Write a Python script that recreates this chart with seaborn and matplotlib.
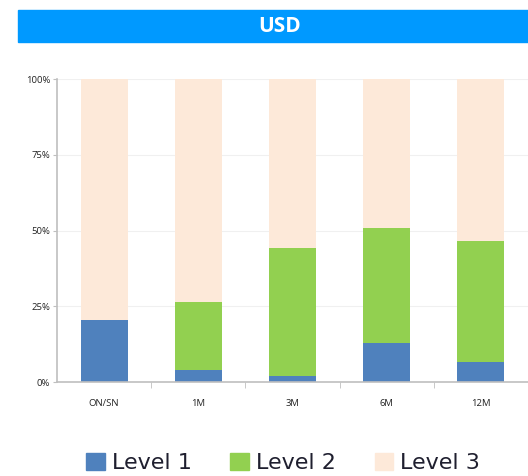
import pandas as pd
import matplotlib.pyplot as plt
import seaborn as sns
from matplotlib.patches import Rectangle, Patch
from matplotlib.ticker import FixedLocator, PercentFormatter

# ===== DATA =====
tenors = ["ON/SN", "1M", "3M", "6M", "12M"]
level1 = [20.5, 4.0, 2.0, 12.9, 6.6]
level2 = [0.0, 22.4, 42.2, 37.9, 39.9]
level3 = [100 - a - b for a, b in zip(level1, level2)]

COLORS = {"Level 1": "#4F81BD", "Level 2": "#92D050", "Level 3": "#FDE9D9"}


def main():
    df = pd.DataFrame({"tenor": tenors, "l1": level1, "l2": level2, "l3": level3})
    df["top2"] = df["l1"] + df["l2"]
    df["top3"] = df["top2"] + df["l3"]

    sns.set_style("white")
    plt.rcParams["font.family"] = ["Open Sans", "DejaVu Sans"]

    fig = plt.figure(figsize=(5.28, 4.76), dpi=100)
    ax = fig.add_axes([57 / 528, 1 - 382 / 476, 1 - 57 / 528, (382 - 79) / 476])

    # stacked bars drawn back to front as cumulative totals
    for col, name in [("top3", "Level 3"), ("top2", "Level 2"), ("l1", "Level 1")]:
        sns.barplot(data=df, x="tenor", y=col, color=COLORS[name], width=0.5,
                    saturation=1, linewidth=0, ax=ax, zorder=2)

    ax.set_xlim(-0.5, 4.5)
    ax.set_ylim(0, 100)
    ax.set_xlabel("")
    ax.set_ylabel("")
    ax.yaxis.set_major_locator(FixedLocator([0, 25, 50, 75, 100]))
    ax.yaxis.set_major_formatter(PercentFormatter(decimals=0))
    ax.grid(axis="y", color="#F0F0F0", linewidth=0.8, zorder=0)
    ax.set_axisbelow(True)

    for side in ["top", "right"]:
        ax.spines[side].set_visible(False)
    for side in ["left", "bottom"]:
        ax.spines[side].set_color("#BFBFBF")
        ax.spines[side].set_linewidth(1.2)

    ax.tick_params(axis="y", labelsize=6.8, labelcolor="#222222", length=3,
                   color="#BFBFBF", pad=2, left=True)
    ax.tick_params(axis="x", which="major", labelsize=6.8, labelcolor="#222222",
                   length=0, pad=12)
    ax.xaxis.set_minor_locator(FixedLocator([0.5, 1.5, 2.5, 3.5]))
    ax.tick_params(axis="x", which="minor", length=4, color="#BFBFBF", bottom=True)

    # title banner
    fig.patches.append(Rectangle((18 / 528, 1 - 42 / 476), 1 - 18 / 528, 32 / 476,
                                 transform=fig.transFigure, color="#0099FF", zorder=0))
    fig.text(280 / 528, 1 - 27 / 476, "USD", color="white", fontsize=15,
             fontweight="bold", ha="center", va="center")

    handles = [Patch(color=c, label=k) for k, c in COLORS.items()]
    fig.legend(handles=handles, loc="center", bbox_to_anchor=(283 / 528, 1 - 463 / 476),
               ncol=3, frameon=False, handlelength=0.85, handleheight=0.85,
               handletextpad=0.3, columnspacing=1.75,
               prop={"family": "DejaVu Sans", "size": 16})
    for t in fig.legends[0].get_texts():
        t.set_color("#1F1F2F")

    fig.savefig("out.png", dpi=100)


if __name__ == "__main__":
    main()
